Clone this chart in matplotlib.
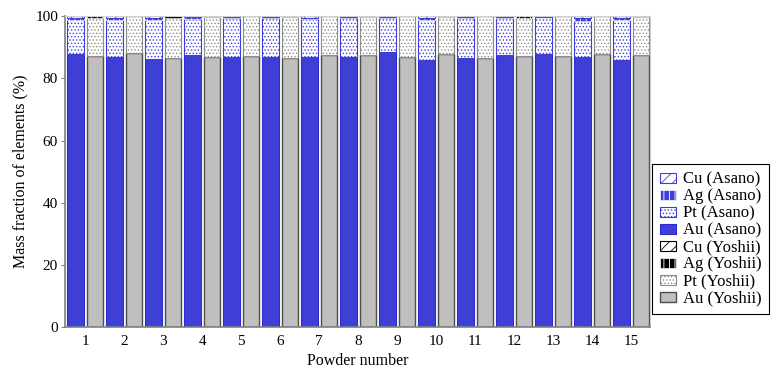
import numpy as np
import matplotlib
matplotlib.use('Agg')
import matplotlib.pyplot as plt
from matplotlib.patches import Patch

# ===== ДАННЫЕ =====
powders = list(range(1, 16))

# Asano (синие столбики), % по массе
asano_au = [87.8, 86.8, 86.2, 87.6, 86.8, 86.8, 87.0, 87.0, 88.5, 86.0, 86.6, 87.6, 87.8, 87.0, 86.0]
asano_pt = [10.9, 12.0, 12.7, 11.5, 12.7, 12.5, 12.0, 12.3, 10.8, 12.9, 12.7, 12.0, 11.9, 11.6, 12.9]
asano_ag = [0.8, 0.7, 0.6, 0.6, 0.3, 0.4, 0.6, 0.4, 0.4, 0.7, 0.4, 0.3, 0.2, 0.8, 0.7]
asano_cu = [0.5, 0.5, 0.5, 0.3, 0.2, 0.3, 0.4, 0.3, 0.3, 0.4, 0.3, 0.1, 0.1, 0.6, 0.4]

# Yoshii (серые столбики)
yoshii_au = [87.3, 88.2, 86.6, 87.0, 87.3, 86.6, 87.6, 87.6, 87.0, 88.0, 86.6, 87.3, 87.3, 87.8, 87.6]
yoshii_pt = [12.1, 11.8, 12.7, 12.7, 12.7, 13.2, 12.4, 12.1, 13.0, 11.7, 13.4, 12.0, 12.7, 12.2, 12.1]
yoshii_ag = [0.6, 0.0, 0.5, 0.3, 0.0, 0.2, 0.0, 0.3, 0.0, 0.3, 0.0, 0.7, 0.0, 0.0, 0.3]
yoshii_cu = [0.0, 0.0, 0.2, 0.0, 0.0, 0.0, 0.0, 0.0, 0.0, 0.0, 0.0, 0.0, 0.0, 0.0, 0.0]

# ===== СТИЛИ =====
plt.rcParams['font.family'] = ['Liberation Serif', 'DejaVu Serif']
plt.rcParams['hatch.linewidth'] = 0.6

BLUE = '#3f3fd8'
GRAY = '#bfbfbf'

styles = {
    'Au (Asano)': dict(facecolor=BLUE, edgecolor='#2a2ad0', hatch=None, linewidth=0.8),
    'Pt (Asano)': dict(facecolor='white', edgecolor=BLUE, hatch='.....', linewidth=0.8),
    'Ag (Asano)': dict(facecolor=BLUE, edgecolor='white', hatch='|||', linewidth=0.5),
    'Cu (Asano)': dict(facecolor='white', edgecolor=BLUE, hatch='///', linewidth=0.8),
    'Au (Yoshii)': dict(facecolor=GRAY, edgecolor='#4d4d4d', hatch=None, linewidth=1.0),
    'Pt (Yoshii)': dict(facecolor='white', edgecolor='#8c8c8c', hatch='.....', linewidth=0.8),
    'Ag (Yoshii)': dict(facecolor='black', edgecolor='white', hatch='|||', linewidth=0.5),
    'Cu (Yoshii)': dict(facecolor='white', edgecolor='black', hatch='///', linewidth=0.8),
}

# ===== РИСУНОК =====
fig = plt.figure(figsize=(7.71, 3.70), dpi=100)
ax = fig.add_axes([0.0843, 0.116, 0.7588, 0.840])

n = len(powders)
x_asano = np.arange(n) * 2
x_yoshii = np.arange(n) * 2 + 1
width = 0.85

def stack(x, layers, names):
    bottom = np.zeros(n)
    for vals, name in zip(layers, names):
        vals = np.array(vals)
        ax.bar(x, vals, width, bottom=bottom, **styles[name])
        bottom += vals

stack(x_asano, [asano_au, asano_pt, asano_ag, asano_cu],
      ['Au (Asano)', 'Pt (Asano)', 'Ag (Asano)', 'Cu (Asano)'])
stack(x_yoshii, [yoshii_au, yoshii_pt, yoshii_ag, yoshii_cu],
      ['Au (Yoshii)', 'Pt (Yoshii)', 'Ag (Yoshii)', 'Cu (Yoshii)'])

# Оси
ax.set_xlim(-0.54, 2 * n - 0.54)
ax.set_ylim(0, 100)
ax.set_yticks(range(0, 101, 20))
ax.set_xticks(np.arange(n) * 2 + 0.5)
ax.set_xticklabels([str(p) for p in powders])
ax.tick_params(axis='x', length=0, labelsize=11, pad=6)
ax.tick_params(axis='y', length=3, color='#808080', labelsize=11, pad=2)

for side in ['left', 'bottom']:
    ax.spines[side].set_color('#808080')
    ax.spines[side].set_linewidth(1.2)
for side in ['top', 'right']:
    ax.spines[side].set_color('#d0d0d0')
    ax.spines[side].set_linewidth(0.8)

ax.set_xlabel('Powder number', fontsize=11.5, labelpad=3)
ax.set_ylabel('Mass fraction of elements (%)', fontsize=11.5, labelpad=5)

# Легенда (порядок как на исходнике)
order = ['Cu (Asano)', 'Ag (Asano)', 'Pt (Asano)', 'Au (Asano)',
         'Cu (Yoshii)', 'Ag (Yoshii)', 'Pt (Yoshii)', 'Au (Yoshii)']
handles = [Patch(label=name, **styles[name]) for name in order]
leg = fig.legend(handles=handles, loc='upper left',
                 bbox_to_anchor=(652 / 771, 1 - 164 / 370),
                 fontsize=12, frameon=True, fancybox=False,
                 edgecolor='black', framealpha=1,
                 handlelength=1.0, handleheight=0.55, handletextpad=0.4,
                 labelspacing=0.06, borderpad=0.45, borderaxespad=0)
leg.get_frame().set_linewidth(0.8)

fig.savefig('out.png', dpi=100)
